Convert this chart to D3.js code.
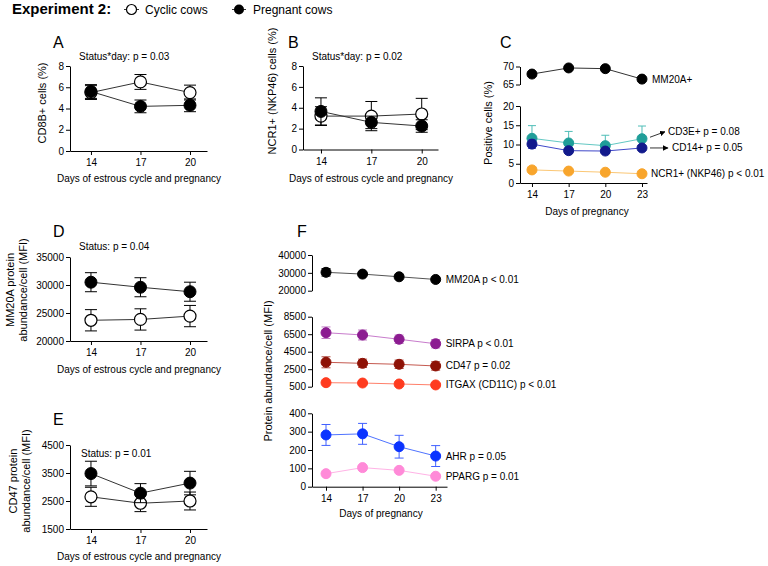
<!DOCTYPE html>
<html>
<head>
<meta charset="utf-8">
<script src="https://cdn.jsdelivr.net/npm/d3@7"></script>
<style>
  body { margin: 0; background: #fff; }
  svg { font-family: "Liberation Sans", Arial, sans-serif; }
</style>
</head>
<body>
<svg width="768" height="566"></svg>
<script>
// days on the x axes
const daysCycle = [14, 17, 20];
const daysPreg = [14, 17, 20, 23];

// A - CD8B+ cells (%)
const aCyclic = [5.5, 6.5, 5.5], aCyclicSem = [0.65, 0.7, 0.7];
const aPregnant = [5.6, 4.2, 4.3], aPregnantSem = [0.65, 0.6, 0.6];
// B - NCR1+ (NKP46) cells (%)
const bCyclic = [3.2, 3.2, 3.4], bCyclicSem = [0.9, 1.4, 1.5];
const bPregnant = [3.65, 2.6, 2.25], bPregnantSem = [1.3, 0.6, 0.6];
// D - MM20A MFI
const dCyclic = [23700, 23850, 24450], dCyclicSem = [1900, 1900, 1900];
const dPregnant = [30500, 29600, 28800], dPregnantSem = [1700, 1700, 1700];
// E - CD47 MFI
const eCyclic = [2650, 2420, 2500], eCyclicSem = [340, 300, 320];
const ePregnant = [3480, 2780, 3140], ePregnantSem = [440, 340, 420];

// C - positive cells (%) during pregnancy
const cMM20A = [67.9, 69.6, 69.4, 66.5];
const cCD3E = [11.6, 10.4, 9.7, 11.5], cCD3ESem = [3.3, 3.0, 2.7, 3.3];
const cCD14 = [10.1, 8.4, 8.3, 9.1], cCD14Sem = [1.1, 0.6, 0.6, 0.6];
const cNCR1 = [3.4, 3.1, 2.8, 2.4];

// F - protein abundance/cell (MFI) during pregnancy
const fMM20A = [30300, 29300, 27800, 26300], fMM20ASem = [2100, 0, 0, 0];
const fSIRPA = [6670, 6410, 5920, 5410], fSIRPASem = [660, 570, 480, 480];
const fCD47 = [3290, 3170, 3060, 2870], fCD47Sem = [630, 480, 480, 480];
const fITGAX = [960, 920, 810, 700];
const fAHR = [282, 288, 218, 167], fAHRSem = [57, 57, 62, 57];
const fPPARG = [71, 104, 89, 57];

const svg = d3.select("svg");
const FONT = '"Liberation Sans", Arial, sans-serif';

function styleAxis(g) {
  g.attr("font-family", FONT).attr("font-size", 10);
  g.selectAll("path.domain").attr("stroke", "#000");
  g.selectAll(".tick line").attr("stroke", "#000");
  g.selectAll(".tick text").attr("fill", "#000");
}

function leftAxis(x0, y, ticks) {
  svg.append("g").attr("transform", `translate(${x0},0)`)
    .call(d3.axisLeft(y).tickValues(ticks).tickSize(4).tickSizeOuter(0).tickPadding(2).tickFormat(d3.format("d")))
    .call(styleAxis);
}

function bottomAxis(y0, x, ticks) {
  svg.append("g").attr("transform", `translate(0,${y0})`)
    .call(d3.axisBottom(x).tickValues(ticks).tickSize(4).tickSizeOuter(0).tickPadding(4))
    .call(styleAxis);
}

function text(x, y, s, size, opts = {}) {
  return svg.append("text").attr("x", x).attr("y", y).text(s)
    .attr("font-size", size).attr("fill", "#000")
    .attr("font-weight", opts.bold ? "bold" : null)
    .attr("text-anchor", opts.anchor || "start");
}

function yLabel(x, cy, lines) {
  lines.forEach((s, i) => {
    svg.append("text")
      .attr("transform", `translate(${x + i * 13},${cy}) rotate(-90)`)
      .attr("text-anchor", "middle").attr("font-size", 11).text(s);
  });
}

// one series: line, error bars, markers
function series(x, y, days, vals, sem, o) {
  const pts = days.map((d, i) => ({ d, v: vals[i], e: sem ? sem[i] : 0 }));
  const g = svg.append("g");
  g.append("path").datum(pts)
    .attr("fill", "none").attr("stroke", o.line).attr("stroke-width", 1)
    .attr("d", d3.line().x(p => x(p.d)).y(p => y(p.v)));
  if (sem) {
    const cw = o.cap / 2;
    const eb = g.selectAll(null).data(pts.filter(p => p.e > 0)).join("g")
      .attr("stroke", o.bar || o.line).attr("stroke-width", 1);
    eb.append("line")
      .attr("x1", p => x(p.d)).attr("x2", p => x(p.d))
      .attr("y1", p => y(p.v + p.e)).attr("y2", p => o.up ? y(p.v) : y(p.v - p.e));
    eb.append("line")
      .attr("x1", p => x(p.d) - cw).attr("x2", p => x(p.d) + cw)
      .attr("y1", p => y(p.v + p.e)).attr("y2", p => y(p.v + p.e));
    if (!o.up) {
      eb.append("line")
        .attr("x1", p => x(p.d) - cw).attr("x2", p => x(p.d) + cw)
        .attr("y1", p => y(p.v - p.e)).attr("y2", p => y(p.v - p.e));
    }
  }
  g.selectAll(null).data(pts).join("circle")
    .attr("cx", p => x(p.d)).attr("cy", p => y(p.v)).attr("r", o.r)
    .attr("fill", o.fill).attr("stroke", o.stroke || o.fill).attr("stroke-width", o.sw || 1);
  return pts;
}

// ---------- header legend ----------
text(12, 14, "Experiment 2:", 15, { bold: true });
svg.append("line").attr("x1", 124).attr("x2", 139).attr("y1", 9.5).attr("y2", 9.5).attr("stroke", "#333");
svg.append("circle").attr("cx", 131.5).attr("cy", 9.5).attr("r", 5).attr("fill", "#fff").attr("stroke", "#000").attr("stroke-width", 1.2);
text(145, 14, "Cyclic cows", 12);
svg.append("line").attr("x1", 232).attr("x2", 246).attr("y1", 9.5).attr("y2", 9.5).attr("stroke", "#333");
svg.append("circle").attr("cx", 239).attr("cy", 9.5).attr("r", 5).attr("fill", "#000");
text(253, 14, "Pregnant cows", 12);

// ---------- two-group panels (A, B, D, E) ----------
function twoGroup(p) {
  const x = d3.scaleLinear().domain(p.xd).range([p.x0, p.x1]);
  const y = d3.scaleLinear().domain(p.yd).range([p.yb, p.yt]);
  leftAxis(p.x0, y, p.yticks);
  bottomAxis(p.yb, x, daysCycle);
  series(x, y, daysCycle, p.cyc, p.cycSem, { line: "#333", fill: "#fff", stroke: "#000", sw: 1.2, r: 6, cap: 12, bar: "#000" });
  series(x, y, daysCycle, p.preg, p.pregSem, { line: "#333", fill: "#000", r: 6, cap: 12, bar: "#000" });
  text(p.letter[1], p.letter[2], p.letter[0], 16);
  text(p.status[1], p.status[2], p.status[0], 10);
  yLabel(p.ylab[0], p.ylab[1], p.ylab[2]);
  text(p.xlab[0], p.xlab[1], "Days of estrous cycle and pregnancy", 10, { anchor: "middle" });
}

twoGroup({
  x0: 70, x1: 207, xd: [12.73, 21.03], yb: 151, yt: 66, yd: [0, 8], yticks: [0, 2, 4, 6, 8],
  cyc: aCyclic, cycSem: aCyclicSem, preg: aPregnant, pregSem: aPregnantSem,
  letter: ["A", 53, 48], status: ["Status*day: p = 0.03", 79, 60],
  ylab: [46, 103, ["CD8B+ cells (%)"]], xlab: [139, 182]
});
twoGroup({
  x0: 303, x1: 438, xd: [12.93, 20.97], yb: 149.5, yt: 66, yd: [0, 8], yticks: [0, 2, 4, 6, 8],
  cyc: bCyclic, cycSem: bCyclicSem, preg: bPregnant, pregSem: bPregnantSem,
  letter: ["B", 288, 48], status: ["Status*day: p = 0.02", 312, 60],
  ylab: [276, 91, ["NCR1+ (NKP46) cells (%)"]], xlab: [371, 182]
});
twoGroup({
  x0: 70, x1: 207, xd: [12.73, 21.03], yb: 341, yt: 257, yd: [20000, 35000], yticks: [20000, 25000, 30000, 35000],
  cyc: dCyclic, cycSem: dCyclicSem, preg: dPregnant, pregSem: dPregnantSem,
  letter: ["D", 53, 237], status: ["Status: p = 0.04", 79, 250],
  ylab: [14, 290, ["MM20A protein", "abundance/cell (MFI)"]], xlab: [139, 373]
});
twoGroup({
  x0: 70, x1: 207, xd: [12.73, 21.03], yb: 529, yt: 445, yd: [1500, 4500], yticks: [1500, 2500, 3500, 4500],
  cyc: eCyclic, cycSem: eCyclicSem, preg: ePregnant, pregSem: ePregnantSem,
  letter: ["E", 53, 425], status: ["Status: p = 0.01", 81, 457],
  ylab: [17, 481, ["CD47 protein", "abundance/cell (MFI)"]], xlab: [139, 560]
});

// ---------- panel C ----------
svg.append("defs").append("marker")
  .attr("id", "arrow").attr("viewBox", "0 0 10 10").attr("refX", 9).attr("refY", 5)
  .attr("markerWidth", 7).attr("markerHeight", 7).attr("orient", "auto")
  .append("path").attr("d", "M0,0L10,5L0,10Z").attr("fill", "#000");

{
  const x = d3.scaleLinear().domain([13.02, 23.41]).range([520, 647]);
  const yTop = d3.scaleLinear().domain([65, 70]).range([84.5, 66.5]);
  const yBot = d3.scaleLinear().domain([0, 20]).range([183, 106]);
  leftAxis(520, yTop, [65, 70]);
  leftAxis(520, yBot, [0, 5, 10, 15, 20]);
  bottomAxis(183, x, daysPreg);

  const mm = series(x, yTop, daysPreg, cMM20A, null, { line: "#333", fill: "#000", r: 5 });
  const cd3 = series(x, yBot, daysPreg, cCD3E, cCD3ESem, { line: "#63c8c3", bar: "#4fbdb7", fill: "#1f9e99", r: 5, cap: 8, up: true });
  const cd14 = series(x, yBot, daysPreg, cCD14, cCD14Sem, { line: "#3f47c9", bar: "#3f47c9", fill: "#121a8c", r: 5, cap: 8 });
  const ncr = series(x, yBot, daysPreg, cNCR1, null, { line: "#fbc775", fill: "#f8a52c", r: 5 });

  const lx = x(23);
  text(lx + 10, yTop(mm[3].v) + 3.5, "MM20A+", 10);
  const y3 = yBot(cd3[3].v);
  svg.append("line").attr("x1", lx + 8).attr("y1", y3 - 1.5).attr("x2", lx + 23).attr("y2", y3 - 7)
    .attr("stroke", "#000").attr("stroke-width", 0.8).attr("marker-end", "url(#arrow)");
  text(lx + 26, y3 - 4, "CD3E+ p = 0.08", 10);
  const y14 = yBot(cd14[3].v);
  svg.append("line").attr("x1", lx + 8).attr("y1", y14).attr("x2", lx + 26).attr("y2", y14)
    .attr("stroke", "#000").attr("stroke-width", 0.8).attr("marker-end", "url(#arrow)");
  text(lx + 30, y14 + 3.5, "CD14+ p = 0.05", 10);
  text(lx + 9, yBot(ncr[3].v) + 3.5, "NCR1+ (NKP46) p < 0.01", 10);

  text(500, 48, "C", 16);
  yLabel(492, 123, ["Positive cells (%)"]);
  text(587, 215, "Days of pregnancy", 10, { anchor: "middle" });
}

// ---------- panel F ----------
{
  const x = d3.scaleLinear().domain([12.85, 23.93]).range([312, 447]);
  const yTop = d3.scaleLinear().domain([20000, 40000]).range([290.7, 255]);
  const yMid = d3.scaleLinear().domain([500, 8500]).range([386.7, 316.7]);
  const yBot = d3.scaleLinear().domain([0, 400]).range([486.7, 413.3]);
  leftAxis(312, yTop, [20000, 30000, 40000]);
  leftAxis(312, yMid, [500, 2500, 4500, 6500, 8500]);
  leftAxis(312, yBot, [0, 100, 200, 300, 400]);
  bottomAxis(486.7, x, daysPreg);

  const rows = [
    { y: yTop, v: fMM20A, e: fMM20ASem, o: { line: "#555", bar: "#000", fill: "#000", r: 5, cap: 9 }, lab: "MM20A p < 0.01" },
    { y: yMid, v: fSIRPA, e: fSIRPASem, o: { line: "#c87ccc", bar: "#c07cc4", fill: "#8c1c91", r: 5, cap: 9 }, lab: "SIRPA p < 0.01" },
    { y: yMid, v: fCD47, e: fCD47Sem, o: { line: "#c55a50", bar: "#b04a40", fill: "#8e1206", r: 5, cap: 9 }, lab: "CD47 p = 0.02" },
    { y: yMid, v: fITGAX, e: null, o: { line: "#ff806a", fill: "#ff3b1f", r: 5 }, lab: "ITGAX (CD11C) p < 0.01" },
    { y: yBot, v: fAHR, e: fAHRSem, o: { line: "#4f73ff", bar: "#4060ff", fill: "#0b33ff", r: 5, cap: 9 }, lab: "AHR p = 0.05" },
    { y: yBot, v: fPPARG, e: null, o: { line: "#ffb3e6", fill: "#ff8ad8", r: 5 }, lab: "PPARG p = 0.01" }
  ];
  rows.forEach(r => {
    const pts = series(x, r.y, daysPreg, r.v, r.e, r.o);
    text(x(23) + 10, r.y(pts[3].v) + 3.5, r.lab, 10);
  });

  text(297, 237, "F", 16);
  yLabel(272, 371, ["Protein abundance/cell (MFI)"]);
  text(381, 517, "Days of pregnancy", 10, { anchor: "middle" });
}
</script>
</body>
</html>
